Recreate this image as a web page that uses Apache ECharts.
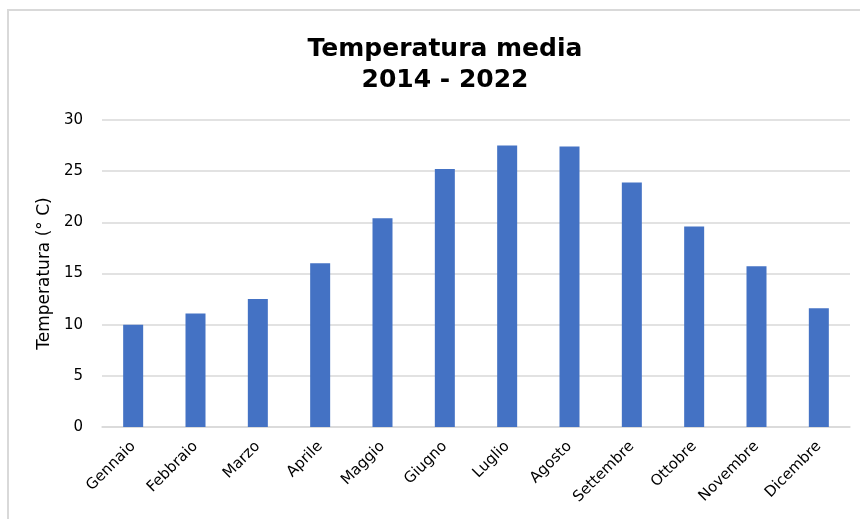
<!DOCTYPE html>
<html>
<head>
<meta charset="utf-8">
<script src="https://cdn.jsdelivr.net/npm/echarts@6/dist/echarts.min.js"></script>
<style>
  html, body { margin: 0; padding: 0; background: #ffffff; }
  #chart { width: 860px; height: 519px; }
</style>
</head>
<body>
<div id="chart"></div>
<script>
// Monthly average temperature, 2014 - 2022
const months = ['Gennaio', 'Febbraio', 'Marzo', 'Aprile', 'Maggio', 'Giugno',
                'Luglio', 'Agosto', 'Settembre', 'Ottobre', 'Novembre', 'Dicembre'];
const avgTemp = [10.0, 11.1, 12.5, 16.0, 20.4, 25.2, 27.5, 27.4, 23.9, 19.6, 15.7, 11.6];
const yTicks = [0, 5, 10, 15, 20, 25, 30];

const titleLines = ['Temperatura media', '2014 - 2022'];
const yAxisTitle = 'Temperatura (° C)';

const labelFont = '"DejaVu Sans", sans-serif';

const chart = echarts.init(document.getElementById('chart'), null, { renderer: 'canvas' });

chart.setOption({
  animation: false,
  backgroundColor: '#ffffff',
  title: {
    text: titleLines.join('\n'),
    left: 440,
    textAlign: 'center',
    top: 29,
    textStyle: {
      fontFamily: labelFont,
      fontWeight: 'bold',
      fontSize: 25,
      lineHeight: 31,
      color: '#000000'
    }
  },
  graphic: [{
    type: 'rect',
    shape: { x: 8, y: 10, width: 870, height: 530 },
    style: { fill: 'none', stroke: '#d9d9d9', lineWidth: 2 },
    silent: true,
    z: -1
  }],
  grid: {
    left: 102,
    right: 10,
    top: 120,
    bottom: 92,
    containLabel: false
  },
  xAxis: {
    type: 'category',
    data: months,
    axisLine: { show: true, lineStyle: { color: '#d9d9d9', width: 1.5 } },
    axisTick: { show: false },
    axisLabel: {
      rotate: 45,
      margin: 17,
      interval: 0,
      fontFamily: labelFont,
      fontSize: 15,
      color: '#000000'
    }
  },
  yAxis: {
    type: 'value',
    min: yTicks[0],
    max: yTicks[yTicks.length - 1],
    interval: 5,
    name: yAxisTitle,
    nameLocation: 'middle',
    nameGap: 47,
    nameRotate: 90,
    nameTextStyle: {
      fontFamily: labelFont,
      fontSize: 17,
      color: '#000000'
    },
    axisLine: { show: false },
    axisTick: { show: false },
    axisLabel: {
      margin: 19,
      fontFamily: labelFont,
      fontSize: 15,
      color: '#000000'
    },
    splitLine: { lineStyle: { color: '#d9d9d9', width: 1.5 } }
  },
  series: [{
    type: 'bar',
    data: avgTemp,
    barWidth: 20,
    itemStyle: { color: '#4472c4' }
  }]
});
</script>
</body>
</html>
